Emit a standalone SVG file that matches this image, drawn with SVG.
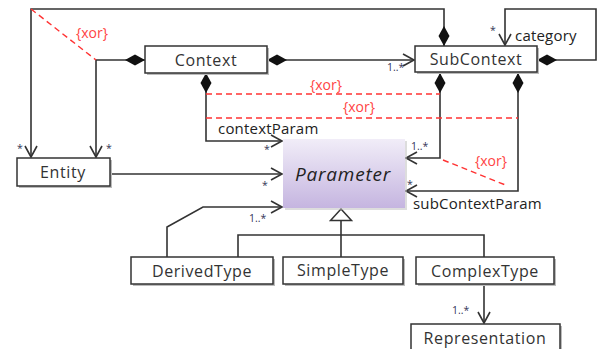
<svg xmlns="http://www.w3.org/2000/svg" width="598" height="349" viewBox="0 0 598 349">
<style>
.box{fill:#fff;stroke:#333;stroke-width:1.5}
.sh{fill:#bbb}
.t{font-family:"Open Sans","DejaVu Sans",sans-serif;font-size:16px;letter-spacing:0.6px;fill:#333;text-anchor:middle}
.ln{fill:none;stroke:#333;stroke-width:1.6}
.x{fill:none;stroke:#f33;stroke-width:1.4;stroke-dasharray:6,4}
.xl{font-family:"Open Sans","DejaVu Sans",sans-serif;font-size:14px;fill:#f44}
.lb{font-family:"Open Sans","DejaVu Sans",sans-serif;font-size:15px;letter-spacing:0.2px;fill:#222}
.m{font-family:"Open Sans","DejaVu Sans",sans-serif;font-size:10.5px;fill:#335}
</style>
<defs>
<marker id="dia" markerUnits="userSpaceOnUse" markerWidth="22" markerHeight="12" refX="0" refY="6" orient="auto" viewBox="0 0 22 12"><path d="M0,6 L10,0.5 L20,6 L10,11.5 Z" fill="#111"/></marker>
<marker id="arr" markerUnits="userSpaceOnUse" markerWidth="14" markerHeight="14" refX="12" refY="7" orient="auto" viewBox="0 0 14 14"><path d="M1,1 L12,7 L1,13" fill="none" stroke="#333" stroke-width="1.6"/></marker>
<marker id="tri" markerUnits="userSpaceOnUse" markerWidth="24" markerHeight="14" refX="12" refY="12" orient="0" viewBox="0 0 24 14"><path d="M1.5,12.5 L12,1 L22.5,12.5 Z" fill="#fff" stroke="#333" stroke-width="1.5"/></marker>
<linearGradient id="pg" x1="0" y1="0" x2="0" y2="1"><stop offset="0" stop-color="#f1edf8"/><stop offset="1" stop-color="#c5b5e0"/></linearGradient>
</defs>
<g id="connectors">
<path class="ln" d="M444,46 V9 H31 V157" marker-start="url(#dia)" marker-end="url(#arr)"/>
<path class="ln" d="M145,60 H96 V157" marker-start="url(#dia)" marker-end="url(#arr)"/>
<path class="ln" d="M267,60 H414" marker-start="url(#dia)" marker-end="url(#arr)"/>
<path class="ln" d="M206,73 V141 H282" marker-start="url(#dia)" marker-end="url(#arr)"/>
<path class="ln" d="M440,73 V158 H406" marker-start="url(#dia)" marker-end="url(#arr)"/>
<path class="ln" d="M518,73 V191 H406" marker-start="url(#dia)" marker-end="url(#arr)"/>
<path class="ln" d="M537,60 H596 V9 H505 V45" marker-start="url(#dia)" marker-end="url(#arr)"/>
<path class="ln" d="M110,174 H282" marker-end="url(#arr)"/>
<path class="ln" d="M167,257 V227 L203,207 H282" marker-end="url(#arr)"/>
<path class="ln" d="M341,257 V220" marker-end="url(#tri)"/>
<path class="ln" d="M238,257 V235 H484 V257"/>
<path class="ln" d="M484,284 V323" marker-end="url(#arr)"/>
<line class="x" x1="31" y1="9" x2="96" y2="60"/>
<line class="x" x1="206" y1="94" x2="440" y2="94"/>
<line class="x" x1="206" y1="118" x2="518" y2="118"/>
<line class="x" x1="443" y1="160" x2="508" y2="186"/>
<text class="xl" x="76" y="38">{xor}</text>
<text class="xl" x="310" y="90">{xor}</text>
<text class="xl" x="343" y="112">{xor}</text>
<text class="xl" x="475" y="166">{xor}</text>
<text class="lb" x="218" y="134">contextParam</text>
<text class="lb" x="413" y="209">subContextParam</text>
<text class="lb" x="515" y="41">category</text>
<text class="m" x="387" y="71">1..*</text>
<text class="m" x="411" y="150">1..*</text>
<text class="m" x="249" y="222">1..*</text>
<text class="m" x="452" y="314">1..*</text>
<text class="m" x="17" y="152">*</text>
<text class="m" x="106" y="152">*</text>
<text class="m" x="264" y="153">*</text>
<text class="m" x="262" y="189">*</text>
<text class="m" x="407" y="188">*</text>
<text class="m" x="490" y="34">*</text>
</g>
<g id="Context"><rect class="sh" x="147" y="48" width="122" height="27"/><rect class="box" x="145" y="46" width="122" height="27"/><text class="t" x="206" y="65.5">Context</text></g>
<g id="SubContext"><rect class="sh" x="417" y="48" width="122" height="26"/><rect class="box" x="415" y="46" width="122" height="26"/><text class="t" x="476" y="65">SubContext</text></g>
<g id="Entity"><rect class="sh" x="19" y="160" width="93" height="28"/><rect class="box" x="17" y="158" width="93" height="28"/><text class="t" x="63" y="177.5">Entity</text></g>
<g id="Parameter"><rect class="sh" x="285" y="141" width="122" height="69" fill-opacity="0.5"/><rect x="283" y="139" width="122" height="69" fill="url(#pg)"/><text class="t" x="343" y="181" style="font-size:19px;letter-spacing:0.8px;font-style:italic;fill:#222">Parameter</text></g>
<g id="DerivedType"><rect class="sh" x="133" y="259" width="142" height="27"/><rect class="box" x="131" y="257" width="142" height="27"/><text class="t" x="202" y="276.5">DerivedType</text></g>
<g id="SimpleType"><rect class="sh" x="285" y="259" width="120" height="27"/><rect class="box" x="283" y="257" width="120" height="27"/><text class="t" x="343" y="276">SimpleType</text></g>
<g id="ComplexType"><rect class="sh" x="418" y="259" width="138" height="27"/><rect class="box" x="416" y="257" width="138" height="27"/><text class="t" x="485" y="276.5">ComplexType</text></g>
<g id="Representation"><rect class="sh" x="413" y="326" width="149" height="30"/><rect class="box" x="411" y="324" width="149" height="30"/><text class="t" x="485" y="344">Representation</text></g>
</svg>
